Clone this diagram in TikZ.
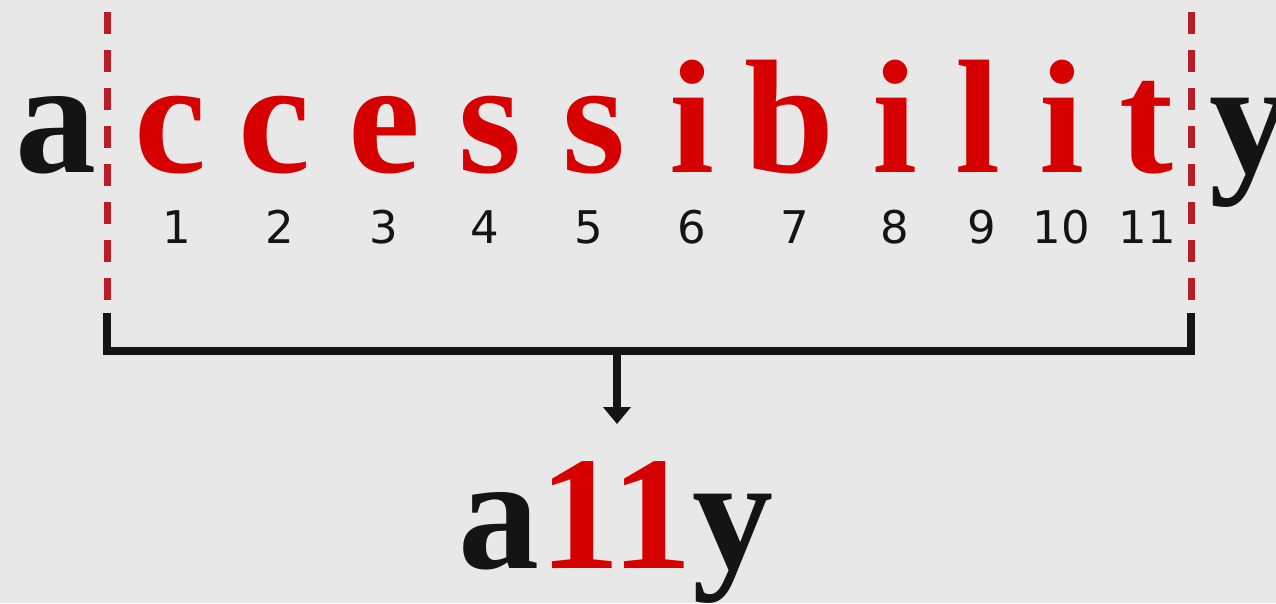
\documentclass[tikz,border=0pt]{standalone}
\usepackage{fontspec}
\setmainfont{Liberation Serif}
\newfontfamily\numfont{DejaVu Sans}
\usetikzlibrary{arrows.meta}
\definecolor{bg}{RGB}{232,232,232}
\definecolor{lred}{RGB}{215,0,0}
\definecolor{dred}{RGB}{185,28,38}
\definecolor{ink}{RGB}{20,20,20}
\begin{document}
\begin{tikzpicture}[x=1pt,y=-1pt,
  big/.style={inner sep=0pt, anchor=base, font=\fontsize{162}{165}\selectfont\bfseries},
  blkletter/.style={big, text=ink},
  redletter/.style={big, text=lred},
  num/.style={inner sep=0pt, anchor=base, font=\numfont\fontsize{45}{50}\selectfont, text=ink},
  cut/.style={draw=dred, line width=7pt, dash pattern=on 22pt off 16pt},
  brk/.style={draw=ink, line width=8pt, line join=miter}]
\useasboundingbox (0,0) rectangle (1276,603);
\fill[bg] (0,0) rectangle (1276,603);
\clip (0,0) rectangle (1276,603);
% word
\node[blkletter] (l0) at (56,172) {a};
\foreach \ch/\x [count=\i] in {c/170,c/274,e/384,s/490,s/594,i/692,b/790,i/895,l/978,i/1062,t/1146}
  \node[redletter] (l\i) at (\x,172) {\ch};
\node[blkletter] (l12) at (1250,172) {y};
% numbers
\foreach \x [count=\i] in {177,280,384,485,589,692,795,895,982,1061,1147}
  \node[num] (n\i) at (\x,243) {\i};
% cut lines
\coordinate (ct1) at (107,12);
\coordinate (cb1) at (107,300);
\coordinate (ct2) at (1191,12);
\coordinate (cb2) at (1191,300);
\draw[cut] (ct1) -- (cb1);
\draw[cut] (ct2) -- (cb2);
% bracket
\coordinate (b1) at (107,313);
\coordinate (b2) at (107,351);
\coordinate (b3) at (1191,351);
\coordinate (b4) at (1191,313);
\coordinate (bm) at (617,351);
\coordinate (tip) at (617,424);
\draw[brk] (b1) -- (b2) -- (b3) -- (b4);
\draw[brk, -{Triangle[width=27pt,length=17pt]}] (bm) -- (tip);
% result
\node[blkletter] (res) at (616,568) {a{\color{lred}11}y};
\end{tikzpicture}
\end{document}
